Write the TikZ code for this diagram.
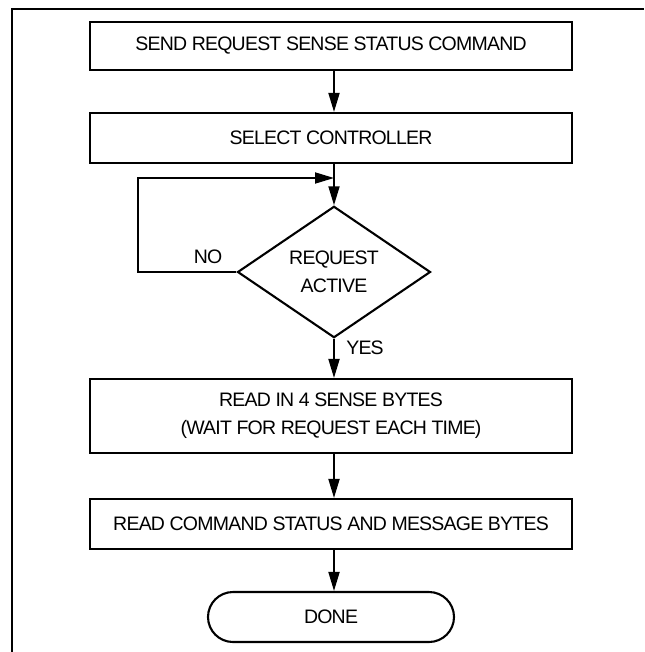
\documentclass[tikz,border=0pt]{standalone}
\usepackage{fontspec}
\setmainfont{Liberation Sans}[LetterSpace=-4.0]
\usetikzlibrary{shapes,arrows.meta}

\begin{document}
\begin{tikzpicture}[x=1pt,y=-1pt,font=\fontsize{19.5}{28}\selectfont,
  box/.style={draw,line width=2.1pt,minimum width=482pt,minimum height=50pt,inner sep=0pt,align=center},
  flow/.style={line width=1.8pt,-{Triangle[length=19pt,width=11pt]}}]
\useasboundingbox (0,0) rectangle (644,652);
\draw[line width=1.6pt] (12,652) -- (12,9) -- (644,9);
\node[box,minimum height=48pt] (send) at (331,46) {SEND REQUEST SENSE STATUS COMMAND};
\node[box] (select) at (331,138) {SELECT CONTROLLER};
\node[draw,diamond,line width=2.1pt,minimum width=193pt,minimum height=123pt,inner sep=0pt,align=center] (req) at (334,272) {REQUEST\\ACTIVE};
\node[box,minimum height=74pt] (read) at (331,416) {READ IN 4 SENSE BYTES\\(WAIT FOR REQUEST EACH TIME)};
\node[box] (status) at (331,524) {READ COMMAND STATUS AND MESSAGE BYTES};
\node[draw,line width=2.1pt,rounded corners=25pt,minimum width=246pt,minimum height=50pt] (done) at (331,617) {DONE};
\node (no) at (208,257) {NO};
\node (yes) at (365,348) {YES};
\coordinate (back) at (138,178);
\coordinate (join) at (334,178);
\draw[flow] (send.south -| req) -- (select.north -| req);
\draw[flow] (select.south -| req) -- (req.north);
\draw[flow] (req.west) -| (back) -- (join);
\draw[flow] (req.south) -- (read.north -| req);
\draw[flow] (read.south -| req) -- (status.north -| req);
\draw[flow] (status.south -| req) -- (done.north -| req);
\end{tikzpicture}
\end{document}
